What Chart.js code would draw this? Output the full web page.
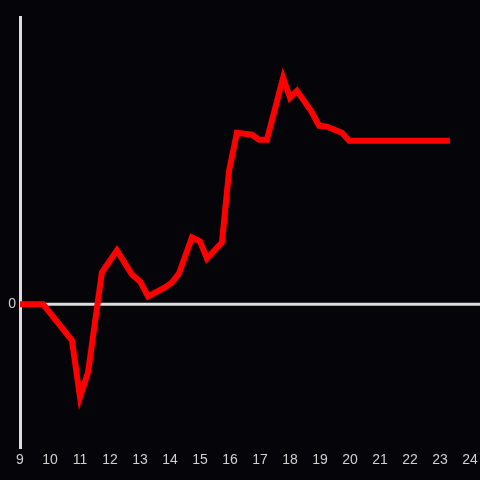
<!DOCTYPE html>
<html>
<head>
<meta charset="utf-8">
<script src="https://cdn.jsdelivr.net/npm/chart.js@4"></script>
<style>
  html, body { margin: 0; padding: 0; background: #050408; }
  #wrap { width: 480px; height: 480px; }
</style>
</head>
<body>
<div id="wrap"><canvas id="lineChart" width="480" height="480"></canvas></div>
<script>
// hour of day and value
var hours = [9, 9.77, 10.73, 11.0, 11.27, 11.73, 12.23, 12.73, 13.0, 13.27, 13.83, 14.07, 14.3, 14.73, 15.0, 15.23, 15.73, 15.97, 16.23, 16.73, 16.97, 17.23, 17.77, 18.0, 18.23, 18.7, 18.97, 19.23, 19.73, 19.97, 23.33];
var values = [0, 0, -36, -93, -68, 32, 54, 30, 23, 8, 17, 22, 31, 67, 63, 46, 62, 134, 172, 170, 165, 165, 227, 207, 214, 194, 179, 178, 172, 164, 164];
var xTicks = [9, 10, 11, 12, 13, 14, 15, 16, 17, 18, 19, 20, 21, 22, 23, 24];

var points = hours.map(function (h, i) { return { x: h, y: values[i] }; });

// zero line that runs to the right edge of the canvas
var zeroLine = {
    id: "zeroLine",
    beforeDatasetsDraw: function (chart) {
        var ctx = chart.ctx;
        var y = chart.scales.y.getPixelForValue(0);
        ctx.save();
        ctx.strokeStyle = "#dddddd";
        ctx.lineWidth = 3;
        ctx.beginPath();
        ctx.moveTo(chart.chartArea.left, y);
        ctx.lineTo(chart.width, y);
        ctx.stroke();
        ctx.restore();
    }
};

new Chart(document.getElementById("lineChart").getContext("2d"), {
    type: "line",
    data: {
        datasets: [{
            data: points,
            borderColor: "#ff0000",
            borderWidth: 6,
            pointRadius: 0,
            tension: 0,
            fill: false
        }]
    },
    options: {
        responsive: false,
        animation: false,
        layout: { padding: { top: 17, right: 10, left: 0, bottom: 0 } },
        plugins: { legend: { display: false }, tooltip: { enabled: false } },
        scales: {
            x: {
                type: "linear",
                min: 9,
                max: 24,
                afterBuildTicks: function (scale) {
                    scale.ticks = xTicks.map(function (v) { return { value: v }; });
                },
                afterFit: function (scale) {
                    scale.height = 32;
                    scale.paddingLeft = 0;
                    scale.paddingRight = 0;
                },
                grid: { display: false, drawTicks: false },
                border: { display: false },
                ticks: { color: "#d0d0d0", padding: 4, maxRotation: 0, autoSkip: false, font: { family: "Liberation Sans", size: 14 } }
            },
            y: {
                min: -144,
                max: 288,
                afterBuildTicks: function (scale) { scale.ticks = [{ value: 0 }]; },
                afterFit: function (scale) { scale.width = 20; },
                grid: { display: false, drawTicks: false },
                border: { display: true, color: "#dddddd", width: 3 },
                ticks: { color: "#d0d0d0", padding: 4, font: { family: "Liberation Sans", size: 14 } }
            }
        }
    },
    plugins: [zeroLine]
});
</script>
</body>
</html>
